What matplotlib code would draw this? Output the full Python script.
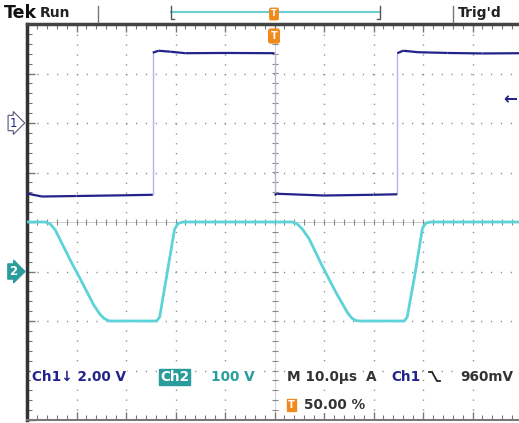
import numpy as np
import matplotlib
matplotlib.use("Agg")
import matplotlib.pyplot as plt
from matplotlib.collections import LineCollection
from matplotlib.lines import Line2D
from matplotlib.transforms import blended_transform_factory

# scope settings
ch1_scale = 2.0      # V/div
ch1_offset = 2.0     # div
ch2_scale = 100.0    # V/div
ch2_offset = -1.0    # div
trig_level = 0.96    # V on Ch1

# Ch1 trace (time in us, volts)
ch1_t = [-50, -47, -40, -30, -24.6, -24.6, -23.4, -21, -18, -10, 0, 0, 0.6, 10, 20, 24.8,
         24.8, 26, 29, 35, 42, 50]
ch1_v = [-2.85, -2.97, -2.95, -2.92, -2.9, 2.84, 2.92, 2.88, 2.82, 2.83, 2.82, -2.9, -2.86,
         -2.93, -2.9, -2.88, 2.82, 2.92, 2.86, 2.83, 2.81, 2.82]

# Ch2 trace (time in us, volts)
ch2_t = [-50, -46.3, -45.3, -44.3, -43.4, -41, -39.4, -36.5, -35.3, -34.4, -33.4, -23.8, -23.2,
         -21.8, -20.2, -19.5, -18.5, 3.6, 4.6, 5.6, 7, 9.7, 12.5, 14.8, 15.6, 16.4, 17.2, 26.2,
         26.8, 28.3, 29.9, 30.6, 31.6, 50]
ch2_v = [100, 100, 96, 84, 66, 18, -12, -68, -86, -95, -100, -100, -92, -10, 85, 97, 100, 100,
         96, 86, 66, 10, -44, -84, -94, -99, -100, -100, -92, -10, 88, 98, 100, 100]

W, H = 519, 423
navy = "#22228a"
cyan = "#5cd3d8"
teal = "#2a9c9c"
orange = "#f08a1c"

fig = plt.figure(figsize=(W / 100, H / 100), dpi=100)
fig.patch.set_facecolor("white")
ax = fig.add_axes([27 / W, 3 / H, 495 / W, 396 / H])
ax.set_xlim(-50, 50)
ax.set_ylim(-4, 4)

# graticule
for xv in np.arange(-40, 50, 10):
    if xv != 0:
        ax.axvline(xv, color="#8a8a8a", lw=1.0, dashes=(0.9, 6.2), zorder=1)
for yv in np.arange(-3, 4, 1):
    if yv != 0:
        ax.axhline(yv, color="#8a8a8a", lw=1.0, dashes=(0.9, 6.2), zorder=1)
ax.axhline(0, color="#c8c8c8", lw=0.6, zorder=1)
ax.axvline(0, color="#c8c8c8", lw=0.6, zorder=1)
mx = np.arange(-50, 50.1, 2)
my = np.arange(-4, 4.01, 0.2)
ax.plot(mx, np.zeros_like(mx), ls="none", marker="|", ms=5, mew=0.8, color="#888888", zorder=1)
ax.plot(np.zeros_like(my), my, ls="none", marker="_", ms=5, mew=0.8, color="#888888", zorder=1)

ax.set_xticks(np.arange(-50, 51, 10))
ax.set_xticks(np.arange(-50, 51, 2), minor=True)
ax.set_yticks(np.arange(-4, 5, 1))
ax.set_yticks(np.arange(-4, 4.01, 0.2), minor=True)
ax.tick_params(which="both", direction="in", top=True, bottom=True, left=True, right=False,
               labelbottom=False, labelleft=False, color="#777777")
ax.tick_params(which="major", length=6, width=1)
ax.tick_params(which="minor", length=3.5, width=0.8)
ax.spines["left"].set_linewidth(2.5)
ax.spines["left"].set_color("#333333")
ax.spines["top"].set_linewidth(2.5)
ax.spines["top"].set_color("#444444")
ax.spines["bottom"].set_linewidth(1.5)
ax.spines["bottom"].set_color("#777777")
ax.spines["right"].set_visible(False)

# Ch2 trace
ch2_d = np.array(ch2_v) / ch2_scale + ch2_offset
ax.plot(ch2_t, ch2_d, color=cyan, lw=2.0, solid_joinstyle="round", zorder=3)

# Ch1 trace: fast edges light, levels dark
ch1_d = np.array(ch1_v) / ch1_scale + ch1_offset
pts = np.column_stack([ch1_t, ch1_d])
segs = np.stack([pts[:-1], pts[1:]], axis=1)
edge = np.isclose(np.diff(ch1_t), 0)
ax.add_collection(LineCollection(segs[edge], colors="#b4b4e6", linewidths=1.0, zorder=4))
ax.add_collection(LineCollection(segs[~edge], colors=navy, linewidths=1.6, zorder=5))

# trigger level arrow
ax.text(47.6, trig_level / ch1_scale + ch1_offset, "\u2190", color=navy, fontsize=12,
        fontweight="bold", ha="center", va="center", zorder=6)

# channel ground markers
bt = blended_transform_factory(fig.transFigure, ax.transData)
ax.text(13 / W, ch1_offset, "1", transform=bt, color=navy, fontsize=8.5, ha="center",
        va="center", bbox=dict(boxstyle="rarrow,pad=0.1", fc="white", ec="#555577", lw=0.8))
ax.text(13 / W, ch2_offset, "2", transform=bt, color="white", fontsize=8.5, fontweight="bold",
        ha="center", va="center", bbox=dict(boxstyle="rarrow,pad=0.1", fc=teal, ec=teal, lw=0.8))


def ftxt(x, y, s, **kw):
    return fig.text(x / W, 1 - y / H, s, va="center", **kw)


# header
ftxt(4, 13, "Tek", fontsize=12.5, fontweight="bold", color="#111111")
ftxt(40, 13, "Run", fontsize=10, fontweight="bold", color="#222222")
ftxt(458, 13, "Trig'd", fontsize=10, fontweight="bold", color="#222222")
for xs in (98, 453):
    fig.add_artist(Line2D([xs / W, xs / W], [1 - 6 / H, 1 - 22 / H], color="#777777", lw=1))
fig.add_artist(Line2D([171 / W, 380 / W], [1 - 12 / H, 1 - 12 / H], color="#6ccfcf", lw=1.5))
fig.add_artist(Line2D([171 / W, 171 / W, 174 / W], [1 - 6 / H, 1 - 19 / H, 1 - 19 / H],
                      color="#555555", lw=1))
fig.add_artist(Line2D([377 / W, 380 / W, 380 / W], [1 - 19 / H, 1 - 19 / H, 1 - 6 / H],
                      color="#555555", lw=1))
ftxt(274, 14, "T", fontsize=6, color="white", ha="center", fontweight="bold",
     bbox=dict(boxstyle="round,pad=0.15", fc=orange, ec=orange))
ftxt(274, 36, "T", fontsize=7, color="white", ha="center", fontweight="bold",
     bbox=dict(boxstyle="round,pad=0.2", fc=orange, ec=orange))

# readouts
fs = 9.8
wb = dict(boxstyle="square,pad=0.1", fc="white", ec="none")
ftxt(32, 377, "Ch1\u2193 2.00 V", fontsize=fs, fontweight="bold", color=navy, bbox=wb)
ftxt(160, 377, "Ch2", fontsize=fs, fontweight="bold", color="white",
     bbox=dict(boxstyle="square,pad=0.1", fc=teal, ec=teal))
ftxt(211, 377, "100 V", fontsize=fs, fontweight="bold", color=teal, bbox=wb)
ftxt(287, 377, "M 10.0\u00b5s", fontsize=fs, fontweight="bold", color="#333333", bbox=wb)
ftxt(366, 377, "A", fontsize=fs, fontweight="bold", color="#333333", bbox=wb)
ftxt(391, 377, "Ch1", fontsize=fs, fontweight="bold", color=navy, bbox=wb)
fig.add_artist(Line2D([429 / W, 432 / W, 437 / W, 440 / W],
                      [1 - 372 / H, 1 - 372 / H, 1 - 381 / H, 1 - 381 / H], color="#222222", lw=1.3))
ftxt(460, 377, "960mV", fontsize=fs, fontweight="bold", color="#333333", bbox=wb)
ftxt(288, 405, "T", fontsize=7, fontweight="bold", color="white",
     bbox=dict(boxstyle="square,pad=0.15", fc=orange, ec=orange))
ftxt(304, 405, "50.00 %", fontsize=fs, fontweight="bold", color="#333333", bbox=wb)

fig.savefig("out.png", dpi=100, facecolor="white")
